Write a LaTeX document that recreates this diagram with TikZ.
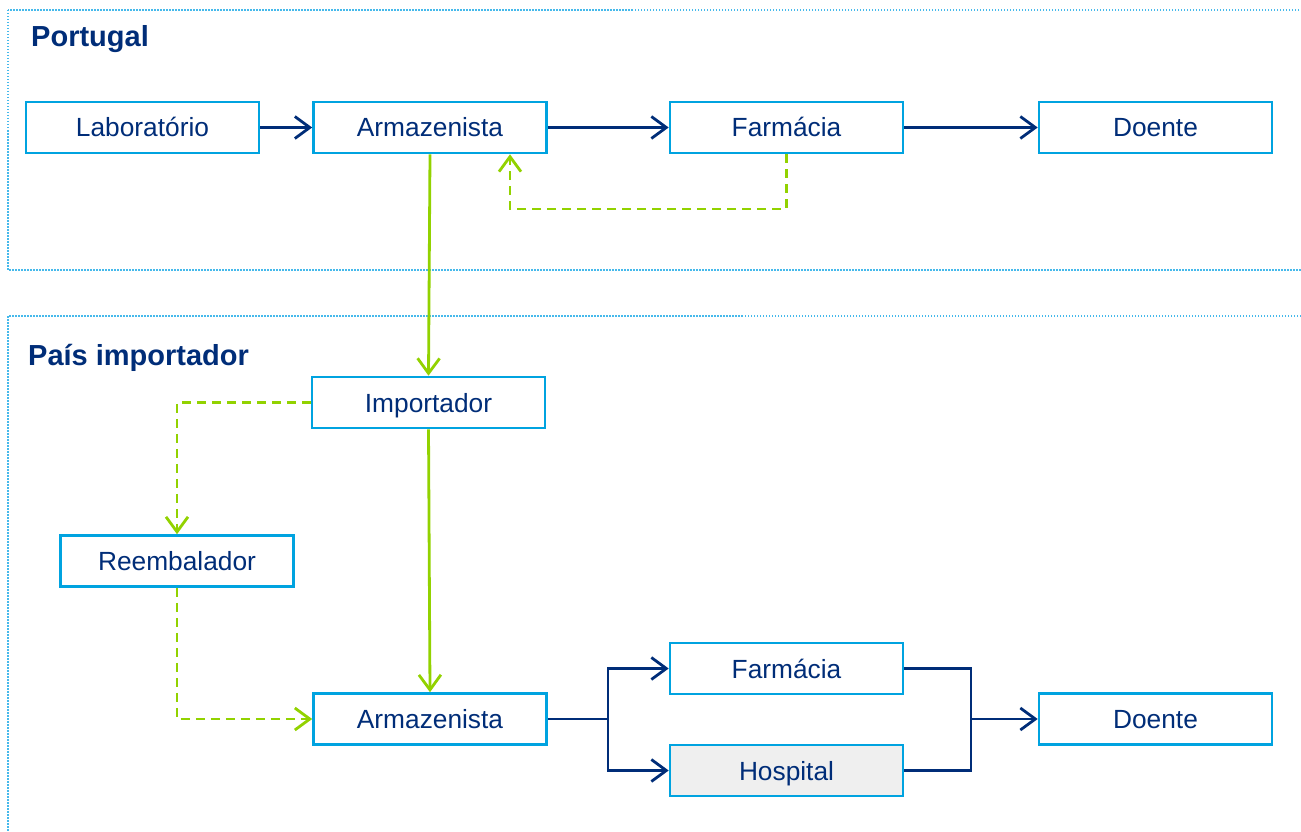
\documentclass[tikz,border=0pt]{standalone}
\usepackage{fontspec}
\setmainfont{Liberation Sans}
\usetikzlibrary{arrows.meta}
\definecolor{navy}{RGB}{0,45,120}
\definecolor{boxblue}{RGB}{0,163,224}
\definecolor{lgreen}{RGB}{146,210,0}
\definecolor{framecol}{RGB}{70,185,235}
\definecolor{hospfill}{RGB}{239,239,239}
\tikzset{
  box/.style={draw=boxblue, line width=2.6pt, minimum width=233pt, minimum height=51pt,
    inner sep=0pt, text=navy, font=\fontsize{26.3}{30}\selectfont, fill=white,
    text height=21pt, text depth=2pt},
  title/.style={anchor=base west, inner sep=0pt, text=navy, font=\fontsize{29}{32}\selectfont\bfseries},
  flow/.style={draw=navy, line width=2.8pt, -{Straight Barb[length=15pt,width=22pt,line width=2.8pt]}},
  flowline/.style={draw=navy, line width=2.8pt},
  gflow/.style={draw=lgreen, line width=2.8pt, -{Straight Barb[length=15pt,width=22pt,line width=2.8pt]}},
  gdash/.style={gflow, dash pattern=on 9pt off 6pt},
  frame/.style={draw=framecol, line width=1.2pt, dash pattern=on 1.5pt off 1.5pt}
}
\begin{document}
\begin{tikzpicture}[x=1pt,y=-1pt]
\useasboundingbox (0,0) rectangle (1301,832);
% frames
\draw[frame] (8,10) rectangle (1310,270);
\draw[frame] (8,316) rectangle (1310,850);
\node[title] (t1) at (31,47) {Portugal};
\node[title] (t2) at (28,365) {País importador};
% nodes
\node[box] (lab) at (142.5,127.5) {Laboratório};
\node[box] (arm1) at (430,127.5) {Armazenista};
\node[box] (farm1) at (786.5,127.5) {Farmácia};
\node[box] (doe1) at (1155.5,127.5) {Doente};
\node[box] (imp) at (428.5,402.5) {Importador};
\node[box] (reem) at (177,561) {Reembalador};
\node[box] (arm2) at (430,719) {Armazenista};
\node[box] (farm2) at (786.5,668.5) {Farmácia};
\node[box, fill=hospfill] (hosp) at (786.5,770.5) {Hospital};
\node[box] (doe2) at (1155.5,719) {Doente};
% top row
\draw[flow] (lab) -- (arm1);
\draw[flow] (arm1) -- (farm1);
\draw[flow] (farm1) -- (doe1);
\coordinate (c1) at (510,209);
\draw[gdash] (farm1.south) |- (c1) -- (c1 |- arm1.south);
% vertical green
\draw[gflow] (arm1.south) -- (imp.north);
\draw[gflow] (imp.south) -- (arm2.north);
% reembalador
\draw[gdash] (imp.west) -| (reem.north);
\draw[gdash] (reem.south) |- (arm2.west);
% split
\coordinate (s1) at (608,719);
\coordinate (j1) at (971,719);
\draw[flowline] (arm2.east) -- (s1);
\draw[flow] (s1) |- (farm2.west);
\draw[flow] (s1) |- (hosp.west);
\draw[flowline] (farm2.east) -| (j1);
\draw[flowline] (hosp.east) -| (j1);
\draw[flow] (j1) -- (doe2.west);
\end{tikzpicture}
\end{document}
